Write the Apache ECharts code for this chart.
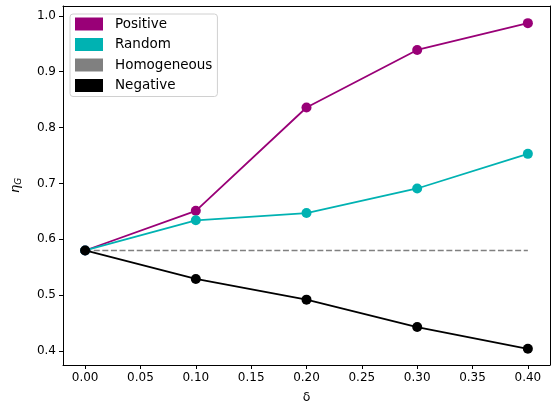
<!DOCTYPE html>
<html>
<head>
<meta charset="utf-8">
<script src="https://cdn.jsdelivr.net/npm/echarts@6/dist/echarts.min.js"></script>
<style>
  html, body { margin: 0; padding: 0; background: #fff; }
  #chart { width: 555px; height: 409px; }
</style>
</head>
<body>
<div id="chart"></div>
<script>
// values
const deltas = [0.0, 0.1, 0.2, 0.3, 0.4]
const positive = [0.58, 0.651, 0.836, 0.939, 0.987]
const random = [0.58, 0.634, 0.647, 0.691, 0.753]
const homogeneous = [0.58, 0.58]
const negative = [0.58, 0.529, 0.492, 0.443, 0.404]
const xTicks = [0, 0.05, 0.1, 0.15, 0.2, 0.25, 0.3, 0.35, 0.4]
const yTicks = [0.4, 0.5, 0.6, 0.7, 0.8, 0.9, 1.0]

const font = 'DejaVu Sans'
const xMin = -0.02, xMax = 0.42
const yMin = 0.375, yMax = 1.0177

function pairs(xs, ys) {
  let out = []
  for (let i = 0; i < ys.length; i++) {
    out.push([xs[i], ys[i]])
  }
  return out
}

function lineSeries(name, color, values) {
  return {
    name: name,
    type: 'line',
    data: pairs(deltas, values),
    symbol: 'circle',
    symbolSize: 10,
    showSymbol: true,
    lineStyle: { color: color, width: 1.8 },
    itemStyle: { color: color },
    emphasis: { disabled: true }
  }
}

// bare frame axes for the top and right spines
function frameAxis(pos, min, max) {
  return {
    type: 'value',
    position: pos,
    min: min,
    max: max,
    axisLine: { show: true, onZero: false, lineStyle: { color: '#000', width: 1 } },
    axisTick: { show: false },
    axisLabel: { show: false },
    splitLine: { show: false }
  }
}

const chart = echarts.init(document.getElementById('chart'))

const option = {
  animation: false,
  grid: {
    left: 63,
    right: 5,
    top: 6,
    bottom: 40
  },
  legend: {
    left: 70,
    top: 14,
    orient: 'vertical',
    icon: 'rect',
    itemWidth: 28,
    itemHeight: 13,
    itemGap: 6.5,
    padding: [3, 5, 4, 5],
    borderColor: '#d0d0d0',
    borderWidth: 1,
    borderRadius: 3,
    backgroundColor: 'rgba(255,255,255,0.8)',
    textStyle: { fontFamily: font, fontSize: 13.5, color: '#000', padding: [0, 0, 0, 7] },
    data: ['Positive', 'Random', 'Homogeneous', 'Negative'],
    selectedMode: false
  },
  xAxis: [
    {
      type: 'value',
      position: 'bottom',
      min: xMin,
      max: xMax,
      name: 'δ',
      nameLocation: 'middle',
      nameGap: 26,
      nameTextStyle: { fontFamily: font, fontSize: 12.5, color: '#000' },
      splitLine: { show: false },
      axisLine: { show: true, onZero: false, lineStyle: { color: '#000', width: 1 } },
      axisTick: {
        show: true,
        length: 4,
        lineStyle: { color: '#000' },
        customValues: xTicks
      },
      axisLabel: {
        fontFamily: font,
        fontSize: 12,
        color: '#000',
        margin: 7,
        customValues: xTicks,
        formatter: v => v.toFixed(2)
      }
    },
    frameAxis('top', xMin, xMax)
  ],
  yAxis: [
    {
      type: 'value',
      position: 'left',
      min: yMin,
      max: yMax,
      name: '{e|η}{s|G}',
      nameLocation: 'middle',
      nameGap: 40,
      nameRotate: 90,
      nameTextStyle: {
        fontFamily: font,
        color: '#000',
        rich: {
          e: { fontFamily: font, fontSize: 13, fontStyle: 'italic', color: '#000' },
          s: { fontFamily: font, fontSize: 9, fontStyle: 'italic', color: '#000', verticalAlign: 'bottom', padding: [6, 0, 0, 0] }
        }
      },
      splitLine: { show: false },
      axisLine: { show: true, onZero: false, lineStyle: { color: '#000', width: 1 } },
      axisTick: {
        show: true,
        length: 4,
        lineStyle: { color: '#000' },
        customValues: yTicks
      },
      axisLabel: {
        fontFamily: font,
        fontSize: 12,
        color: '#000',
        margin: 7,
        customValues: yTicks,
        formatter: v => v.toFixed(1)
      }
    },
    frameAxis('right', yMin, yMax)
  ],
  series: [
    lineSeries('Positive', '#990077', positive),
    lineSeries('Random', '#00b2b2', random),
    {
      name: 'Homogeneous',
      type: 'line',
      data: pairs([deltas[0], deltas[deltas.length - 1]], homogeneous),
      symbol: 'none',
      lineStyle: { color: '#808080', width: 1.6, type: [6, 2.6] },
      itemStyle: { color: '#808080' },
      emphasis: { disabled: true }
    },
    lineSeries('Negative', '#000000', negative)
  ]
}

chart.setOption(option)
</script>
</body>
</html>
